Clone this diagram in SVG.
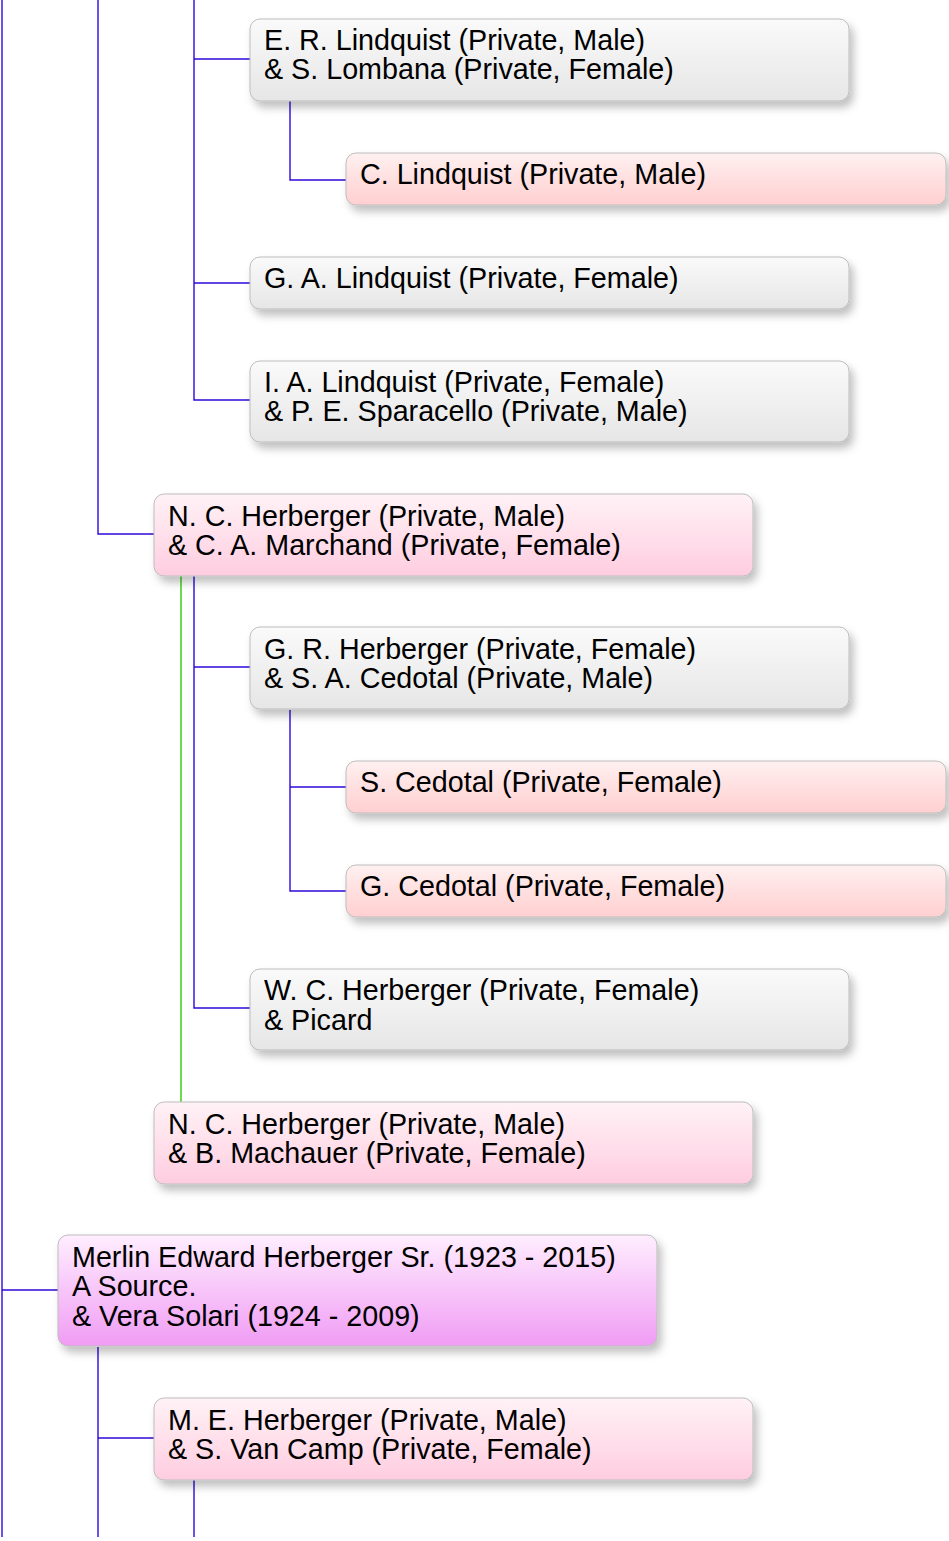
<svg xmlns="http://www.w3.org/2000/svg" width="949" height="1541" viewBox="0 0 949 1541">
<defs>
<linearGradient id="gGray" x1="0" y1="0" x2="0" y2="1"><stop offset="0" stop-color="#fafafa"/><stop offset="1" stop-color="#e6e6e6"/></linearGradient>
<linearGradient id="gRed" x1="0" y1="0" x2="0" y2="1"><stop offset="0" stop-color="#fff0f0"/><stop offset="1" stop-color="#ffcfd0"/></linearGradient>
<linearGradient id="gPink" x1="0" y1="0" x2="0" y2="1"><stop offset="0" stop-color="#fff2f6"/><stop offset="1" stop-color="#ffcde0"/></linearGradient>
<linearGradient id="gMag" x1="0" y1="0" x2="0" y2="1"><stop offset="0" stop-color="#ffeeff"/><stop offset="1" stop-color="#f09cf4"/></linearGradient>
<filter id="sh" x="-5%" y="-20%" width="115%" height="160%"><feDropShadow dx="4" dy="6" stdDeviation="4" flood-color="#000" flood-opacity="0.25"/></filter>
</defs>
<style>
.box{stroke:#bdbdbd;stroke-width:1;filter:url(#sh)}
.gray{fill:url(#gGray)}
.red{fill:url(#gRed)}
.pink{fill:url(#gPink)}
.mag{fill:url(#gMag)}
text{font-family:"Liberation Sans",Arial,sans-serif;font-size:28.7px;fill:#000}
.ln{stroke:#3008dc;stroke-width:1.4;fill:none}
.gl{stroke:#30cc08;stroke-width:1.4;fill:none}
</style>
<g id="connectors">
<path class="ln" d="M2,0V1537M2,1290H58"/>
<path class="ln" d="M98,0V534H154"/>
<path class="ln" d="M194,0V400H250M194,59H250M194,283H250"/>
<path class="ln" d="M290,101V180H346"/>
<path class="ln" d="M194,576V1008H250M194,667H250"/>
<path class="ln" d="M290,710V891H346M290,787H346"/>
<path class="gl" d="M181,576V1102"/>
<path class="ln" d="M98,1347V1537M98,1438H154"/>
<path class="ln" d="M194,1480V1537"/>
</g>
<g id="n1"><rect class="box gray" x="250" y="19" width="599" height="82" rx="10"/><text x="264" y="50">E. R. Lindquist (Private, Male)</text><text x="264" y="79">&amp; S. Lombana (Private, Female)</text></g>
<g id="n2"><rect class="box red" x="346" y="153" width="600" height="52" rx="10"/><text x="360" y="184">C. Lindquist (Private, Male)</text></g>
<g id="n3"><rect class="box gray" x="250" y="257" width="599" height="52" rx="10"/><text x="264" y="288">G. A. Lindquist (Private, Female)</text></g>
<g id="n4"><rect class="box gray" x="250" y="361" width="599" height="81" rx="10"/><text x="264" y="392">I. A. Lindquist (Private, Female)</text><text x="264" y="421">&amp; P. E. Sparacello (Private, Male)</text></g>
<g id="n5"><rect class="box pink" x="154" y="494" width="599" height="82" rx="10"/><text x="168" y="526">N. C. Herberger (Private, Male)</text><text x="168" y="555">&amp; C. A. Marchand (Private, Female)</text></g>
<g id="n6"><rect class="box gray" x="250" y="627" width="599" height="82" rx="10"/><text x="264" y="659">G. R. Herberger (Private, Female)</text><text x="264" y="688">&amp; S. A. Cedotal (Private, Male)</text></g>
<g id="n7"><rect class="box red" x="346" y="761" width="600" height="52" rx="10"/><text x="360" y="792">S. Cedotal (Private, Female)</text></g>
<g id="n8"><rect class="box red" x="346" y="865" width="600" height="52" rx="10"/><text x="360" y="896">G. Cedotal (Private, Female)</text></g>
<g id="n9"><rect class="box gray" x="250" y="969" width="599" height="81" rx="10"/><text x="264" y="1000">W. C. Herberger (Private, Female)</text><text x="264" y="1030">&amp; Picard</text></g>
<g id="n10"><rect class="box pink" x="154" y="1102" width="599" height="82" rx="10"/><text x="168" y="1134">N. C. Herberger (Private, Male)</text><text x="168" y="1163">&amp; B. Machauer (Private, Female)</text></g>
<g id="n11"><rect class="box mag" x="58" y="1235" width="599" height="111" rx="10"/><text x="72" y="1267">Merlin Edward Herberger Sr. (1923 - 2015)</text><text x="72" y="1296">A Source.</text><text x="72" y="1326">&amp; Vera Solari (1924 - 2009)</text></g>
<g id="n12"><rect class="box pink" x="154" y="1398" width="599" height="82" rx="10"/><text x="168" y="1430">M. E. Herberger (Private, Male)</text><text x="168" y="1459">&amp; S. Van Camp (Private, Female)</text></g>
</svg>
